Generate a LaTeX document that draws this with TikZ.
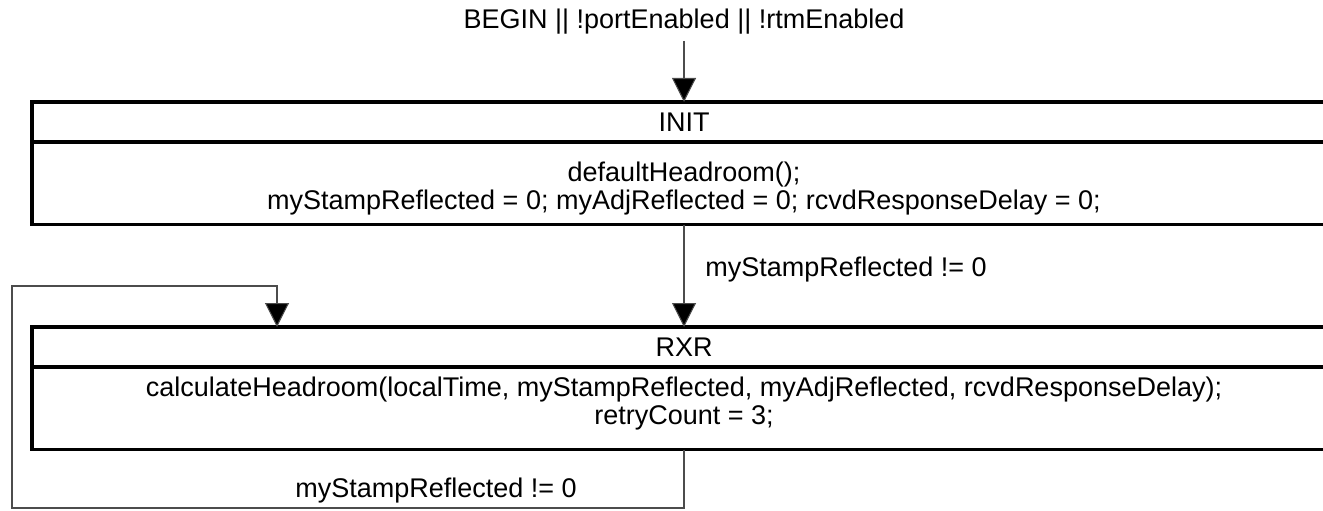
\documentclass[tikz,border=0pt]{standalone}
\usepackage{fontspec}
\setmainfont{Liberation Sans}
\usetikzlibrary{arrows.meta,positioning}
\tikzset{
  statehead/.style={
    draw=black,
    line width=2.4pt,
    minimum width=978pt,
    minimum height=30pt,
    inner sep=0pt,
    outer sep=0pt,
    anchor=north
  },
  statebody/.style={
    draw=black,
    line width=2.4pt,
    minimum width=978pt,
    minimum height=62pt,
    inner sep=0pt,
    outer sep=0pt
  },
  linetext/.style={
    anchor=base,
    inner sep=0pt
  },
  trans/.style={
    draw=black!70,
    line width=0.8pt,
    -{Triangle[width=18pt,length=18pt,fill=black]}
  }
}

\begin{document}
\begin{tikzpicture}[x=0.75pt,y=-0.75pt,font=\fontsize{20.25}{21}\selectfont]
\useasboundingbox (0,0) rectangle (1323,510);
\clip (0,0) rectangle (1323,510);
\node[linetext] (begin) at (684,29) {BEGIN || !portEnabled || !rtmEnabled};
% INIT state
\node[statehead] (init) at (684,102) {INIT};
\node[statebody, below=0pt of init] (initbody) {};
\node[linetext] (initl1) at (684,181) {defaultHeadroom();};
\node[linetext] (initl2) at (684,209) {myStampReflected = 0; myAdjReflected = 0; rcvdResponseDelay = 0;};
% RXR state
\node[statehead] (rxr) at (684,327) {RXR};
\node[statebody, below=0pt of rxr] (rxrbody) {};
\node[linetext] (rxrl1) at (684,396) {calculateHeadroom(localTime, myStampReflected, myAdjReflected, rcvdResponseDelay);};
\node[linetext] (rxrl2) at (684,424) {retryCount = 3;};
\node[linetext, anchor=base west] (lbl1) at (705,276) {myStampReflected != 0};
\node[linetext] (lbl2) at (436,497) {myStampReflected != 0};
\coordinate (lpbot) at (12,508);
\coordinate (lptop) at (277,286);
\draw[trans] ([yshift=-9pt]begin.base) -- (init.north);
\draw[trans] (initbody.south) -- (rxr.north);
\draw[trans] (rxrbody.south) |- (lpbot) |- (lptop) -- (lptop |- rxr.north);
\end{tikzpicture}
\end{document}
